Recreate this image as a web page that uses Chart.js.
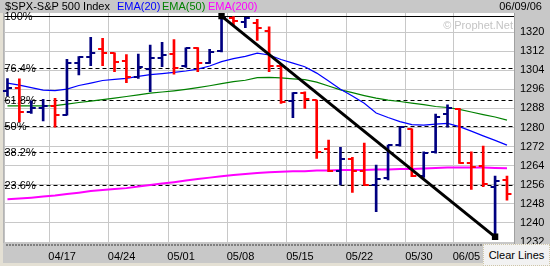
<!DOCTYPE html>
<html lang="en">
<head>
<meta charset="utf-8">
<title>$SPX-S&amp;P 500 Index</title>
<script src="https://cdn.jsdelivr.net/npm/chart.js@4.4.0/dist/chart.umd.min.js"></script>
<style>
    body { margin: 0; background: #c8c8c8; }
    #wrap { position: relative; width: 550px; height: 266px; overflow: hidden;
            font-family: "Liberation Sans", Arial, sans-serif; font-size: 11px; }
    #wrap canvas { position: absolute; left: 0; top: 0; }
    .txt { position: absolute; top: 0; line-height: 13px; white-space: nowrap; }
    #mark { top: 19px; right: 37px; color: #c4c4c4; }
    #clear { left: 483px; top: 244px; width: 65px; height: 20px; line-height: 20px;
             background: #f2f2f2; border: 1px dotted #cfc6a8; text-align: center; color: #000; }
</style>
</head>
<body>
<div id="wrap">
    <canvas id="spx" width="550" height="266"></canvas>
    <div class="txt" style="left:5px">$SPX-S&amp;P 500 Index</div>
    <div class="txt" style="left:117px;color:#0000ff">EMA(20)</div>
    <div class="txt" style="left:162px;color:#008000">EMA(50)</div>
    <div class="txt" style="left:208px;color:#ff00ff">EMA(200)</div>
    <div class="txt" style="right:8px">06/09/06</div>
    <div class="txt" id="mark">&copy; Prophet.Net</div>
    <div class="txt" id="clear">Clear Lines</div>
</div>

<script>
    // daily bars, S&P 500
    const dates = ['04/10','04/11','04/12','04/13','04/17','04/18','04/19','04/20','04/21',
        '04/24','04/25','04/26','04/27','04/28','05/01','05/02','05/03','05/04','05/05',
        '05/08','05/09','05/10','05/11','05/12','05/15','05/16','05/17','05/18','05/19',
        '05/22','05/23','05/24','05/25','05/26','05/30','05/31','06/01','06/02',
        '06/05','06/06','06/07','06/08','06/09'];
    const opens = [1295.5,1296.6,1286.6,1288.1,1289.1,1285.3,1307.2,1309.5,1313.0,1311.3,1308.0,
        1301.0,1304.4,1309.2,1310.8,1305.8,1313.2,1307.1,1312.2,1325.8,1324.3,1324.0,1320.4,
        1305.8,1291.1,1294.6,1291.5,1270.8,1261.7,1266.8,1261.7,1255.9,1259.0,1272.6,1279.2,
        1259.7,1269.8,1285.5,1287.6,1265.2,1263.8,1254.9,1258.0];
    const highs = [1300.5,1300.4,1291.2,1291.8,1292.2,1308.6,1309.7,1317.8,1317.4,1311.3,1310.6,
        1310.8,1314.6,1315.7,1316.9,1313.4,1313.5,1312.8,1326.7,1326.5,1326.2,1325.3,1322.2,
        1306.2,1294.6,1295.0,1291.5,1274.7,1271.7,1267.5,1273.5,1264.3,1272.6,1280.3,1279.4,
        1269.8,1285.6,1289.5,1288.0,1269.8,1272.2,1259.7,1259.7];
    const lows = [1293.2,1282.4,1285.9,1282.8,1280.1,1285.2,1302.0,1305.9,1305.9,1303.4,1298.8,
        1300.6,1295.0,1305.5,1302.4,1305.2,1303.4,1306.9,1311.7,1323.0,1321.8,1316.5,1303.4,
        1290.1,1284.1,1288.0,1267.1,1261.5,1255.9,1252.8,1255.7,1244.7,1258.0,1272.2,1259.4,
        1259.1,1269.2,1280.2,1265.0,1254.1,1255.2,1234.2,1249.6];
    const closes = [1296.6,1286.6,1288.1,1289.1,1285.3,1307.2,1309.4,1311.4,1311.1,1307.6,1301.3,
        1305.2,1309.2,1310.4,1304.8,1313.2,1307.1,1311.7,1325.7,1324.5,1325.7,1321.6,1305.6,
        1290.8,1294.6,1291.8,1269.8,1261.7,1266.8,1261.7,1256.0,1258.3,1272.6,1280.1,1259.7,
        1269.4,1284.5,1288.0,1265.2,1263.6,1256.2,1257.7,1252.0];

    const ema20 = [1298.6,1297.8,1296.7,1295.7,1295.5,1296.1,1297.6,1298.6,1299.7,1300.2,1300.6,
        1301.4,1302.2,1302.6,1303.1,1303.7,1304.5,1305.8,1307.6,1308.9,1309.8,1311.2,1310.4,
        1308.5,1307.0,1305.5,1302.8,1299.5,1296.0,1293.2,1290.2,1286.1,1284.2,1282.5,1281.2,
        1281.0,1281.4,1281.7,1280.4,1278.5,1276.5,1274.6,1272.6];
    const ema50 = [1289.1,1289.1,1289.1,1289.1,1289.2,1289.8,1290.5,1291.1,1291.7,1292.3,1293.0,
        1293.7,1294.4,1294.9,1295.4,1296.0,1296.7,1297.5,1298.4,1299.2,1299.8,1300.9,1301.0,
        1300.8,1300.4,1300.1,1299.0,1297.4,1295.8,1294.6,1293.4,1292.3,1291.5,1290.9,1290.2,
        1289.6,1288.8,1288.4,1287.6,1286.5,1285.4,1284.4,1283.1];
    const ema200 = [1249.9,1250.2,1250.6,1251.1,1251.5,1252.1,1252.7,1253.4,1253.8,1254.2,1254.6,
        1255.3,1255.9,1256.5,1257.1,1257.8,1258.4,1259.0,1259.6,1260.1,1260.5,1260.9,1261.3,
        1261.5,1261.7,1261.7,1262.0,1262.0,1262.2,1262.2,1262.2,1262.4,1262.4,1262.6,1262.6,
        1262.8,1263.0,1263.2,1263.2,1263.2,1263.2,1263.0,1262.9];

    const yTicks = [1232,1240,1248,1256,1264,1272,1280,1288,1296,1304,1312,1320];
    const dateTicks = ['04/17','04/24','05/01','05/08','05/15','05/22','05/30','06/05'];
    const fibLevels = ['100%','76.4%','61.8%','50%','38.2%','23.6%'];
    // trend line: from the top bar to the bottom bar
    const trendFrom = 18, trendTo = 41;

    const NAVY = '#000080', RED = '#ff0000';
    const FONT = '"Liberation Sans", Arial, sans-serif';
    Chart.defaults.font.family = FONT;
    Chart.defaults.font.size = 11;

    const barColors = closes.map((c, i) => c >= opens[i] ? NAVY : RED);

    // white plot area + bottom strip
    const backdrop = {
        id: 'backdrop',
        beforeDraw(chart) {
            const c = chart.ctx, a = chart.chartArea;
            c.save();
            c.fillStyle = '#e4e0d4';
            c.fillRect(0, 13, 3, 266);
            c.fillRect(0, 263, 550, 3);
            c.fillStyle = '#ffffff';
            c.fillRect(a.left, a.top, a.right - a.left, a.bottom - a.top);
            c.strokeStyle = '#808080';
            c.lineWidth = 2;
            c.setLineDash([2, 1]);
            c.beginPath();
            c.moveTo(6, 245);
            c.lineTo(483, 245);
            c.stroke();
            c.setLineDash([]);
            c.lineWidth = 1;
            c.strokeStyle = '#a0a0a0';
            c.beginPath();
            c.moveTo(a.left - 0.5, a.top);
            c.lineTo(a.left - 0.5, a.bottom);
            c.stroke();
            c.restore();
        }
    };

    // fibonacci retracement lines between trend line ends
    const fibs = {
        id: 'fibs',
        beforeDatasetsDraw(chart) {
            const c = chart.ctx, a = chart.chartArea, y = chart.scales.y;
            const hi = highs[trendFrom], lo = lows[trendTo];
            c.save();
            c.font = '11px ' + FONT;
            c.textBaseline = 'middle';
            c.fillStyle = '#000';
            c.strokeStyle = '#000';
            c.lineWidth = 1;
            fibLevels.forEach(function (lbl) {
                const pct = parseFloat(lbl) / 100;
                const py = Math.round(y.getPixelForValue(lo + (hi - lo) * pct)) + 0.5;
                c.setLineDash(pct === 1 ? [] : [4, 3]);
                c.beginPath();
                c.moveTo(a.left, py);
                c.lineTo(a.right, py);
                c.stroke();
                c.fillText(lbl, a.left, py);
            });
            c.restore();
        }
    };

    // open / close ticks on the hi-lo bars
    const ohlcTicks = {
        id: 'ohlcTicks',
        afterDatasetDraw(chart, args) {
            if (args.meta.type !== 'bar') return;
            const c = chart.ctx, x = chart.scales.x, y = chart.scales.y;
            c.save();
            c.lineWidth = 2;
            dates.forEach(function (d, i) {
                const px = x.getPixelForValue(i);
                const yo = Math.round(y.getPixelForValue(opens[i]));
                const yc = Math.round(y.getPixelForValue(closes[i]));
                c.strokeStyle = barColors[i];
                c.beginPath();
                c.moveTo(px - 4.5, yo);
                c.lineTo(px, yo);
                c.moveTo(px, yc);
                c.lineTo(px + 4.5, yc);
                c.stroke();
            });
            c.restore();
        }
    };

    const pts = arr => arr.map((v, i) => ({ x: i, y: v }));

    new Chart(document.getElementById('spx'), {
        type: 'bar',
        data: {
            datasets: [
                {
                    type: 'line', label: 'EMA(20)', data: pts(ema20), order: 3,
                    borderColor: '#0000ff', borderWidth: 1.2, pointRadius: 0
                },
                {
                    type: 'line', label: 'EMA(50)', data: pts(ema50), order: 3,
                    borderColor: '#008000', borderWidth: 1.2, pointRadius: 0
                },
                {
                    type: 'line', label: 'EMA(200)', data: pts(ema200), order: 3,
                    borderColor: '#ff00ff', borderWidth: 2, pointRadius: 0
                },
                {
                    type: 'bar', label: '$SPX', order: 2,
                    data: dates.map((d, i) => ({ x: i, y: [lows[i], highs[i]] })),
                    backgroundColor: barColors, barThickness: 2, borderWidth: 0
                },
                {
                    type: 'line', label: 'trend', order: 1,
                    data: [{ x: trendFrom, y: highs[trendFrom] }, { x: trendTo, y: lows[trendTo] }],
                    borderColor: '#000', borderWidth: 3,
                    pointStyle: 'rect', pointRadius: 4.5, pointBackgroundColor: '#000',
                    pointBorderWidth: 0
                }
            ]
        },
        options: {
            responsive: false,
            animation: false,
            layout: { padding: { left: 4, top: 13, right: 0, bottom: 0 } },
            plugins: { legend: { display: false }, tooltip: { enabled: false } },
            scales: {
                x: {
                    type: 'linear', min: -0.25, max: 42.59, offset: false,
                    afterBuildTicks: s => { s.ticks = dateTicks.map(d => ({ value: dates.indexOf(d) - 0.5 })); },
                    afterFit: s => { s.height = 23; },
                    ticks: {
                        maxRotation: 0, autoSkip: false, padding: 7, color: '#000', labelOffset: 13,
                        callback: v => dates[Math.round(v + 0.5)]
                    },
                    grid: { color: '#c8c8c8', drawTicks: false, offset: false },
                    border: { display: false }
                },
                y: {
                    position: 'right', min: 1231.6, max: 1328,
                    afterBuildTicks: s => { s.ticks = yTicks.map(v => ({ value: v })); },
                    afterFit: s => { s.width = 36; },
                    ticks: { padding: 6, color: '#000', callback: v => String(v) },
                    grid: { color: '#c8c8c8', drawTicks: false },
                    border: { color: '#a0a0a0' }
                }
            }
        },
        plugins: [backdrop, fibs, ohlcTicks]
    });
</script>
</body>
</html>
